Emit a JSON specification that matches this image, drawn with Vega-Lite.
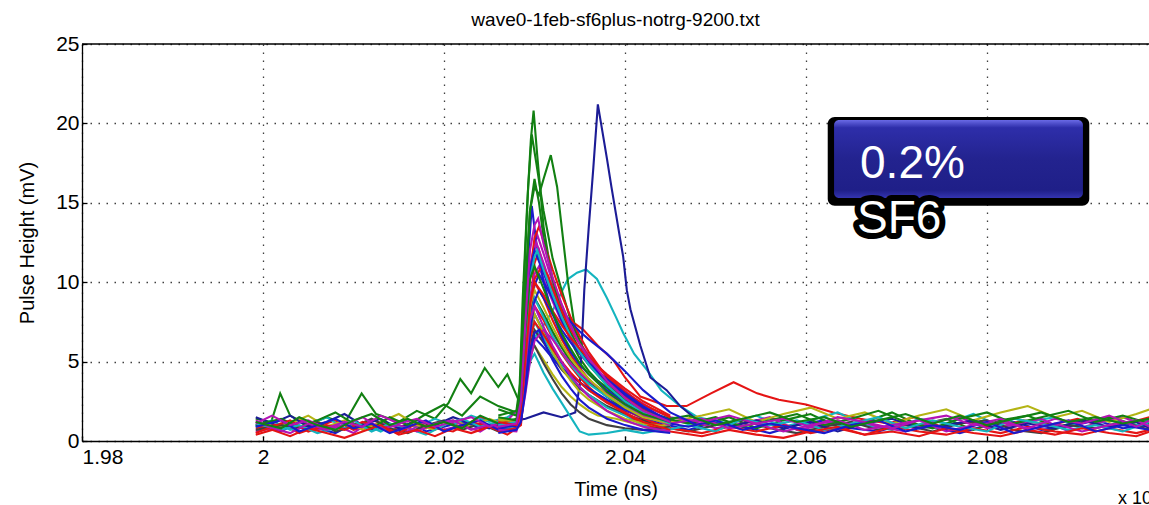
{
"$schema":"https://vega.github.io/schema/vega-lite/v6.json",
"width":1067,"height":397,
"autosize":{"type":"none"},
"padding":{"left":82,"top":44,"right":0,"bottom":64},
"background":"white",
"config":{"view":{"stroke":null},"font":"Liberation Sans"},
"title":{"text":"wave0-1feb-sf6plus-notrg-9200.txt","fontSize":19,"fontWeight":"normal","font":"Liberation Sans","color":"#000","offset":3},
"datasets":{
"w":[
{"s":"a","t":1.9992,"v":1.0},{"s":"a","t":2.002,"v":0.6},{"s":"a","t":2.004,"v":1.2},{"s":"a","t":2.006,"v":0.8},{"s":"a","t":2.008,"v":0.5},{"s":"a","t":2.01,"v":1.1},{"s":"a","t":2.012,"v":0.7},{"s":"a","t":2.014,"v":0.9},{"s":"a","t":2.016,"v":1.3},{"s":"a","t":2.018,"v":0.6},{"s":"a","t":2.02,"v":0.9},{"s":"a","t":2.022,"v":1.2},{"s":"a","t":2.024,"v":0.8},{"s":"a","t":2.026,"v":1.0},{"s":"a","t":2.028,"v":0.9},{"s":"a","t":2.0285,"v":1.8},{"s":"a","t":2.029,"v":4.0},{"s":"a","t":2.0295,"v":6.8},{"s":"a","t":2.03,"v":8.0},{"s":"a","t":2.031,"v":6.9},{"s":"a","t":2.032,"v":5.8},{"s":"a","t":2.033,"v":4.9},{"s":"a","t":2.034,"v":4.2},{"s":"a","t":2.035,"v":3.7},{"s":"a","t":2.036,"v":3.2},{"s":"a","t":2.038,"v":2.5},{"s":"a","t":2.04,"v":1.9},{"s":"a","t":2.042,"v":1.5},{"s":"a","t":2.044,"v":1.1},{"s":"a","t":2.047,"v":0.7},{"s":"a","t":2.05,"v":1.2},{"s":"a","t":2.053,"v":0.9},{"s":"a","t":2.056,"v":0.5},{"s":"a","t":2.059,"v":1.0},{"s":"a","t":2.062,"v":1.3},{"s":"a","t":2.065,"v":0.8},{"s":"a","t":2.068,"v":0.6},{"s":"a","t":2.071,"v":1.1},{"s":"a","t":2.074,"v":0.9},{"s":"a","t":2.077,"v":0.5},{"s":"a","t":2.08,"v":1.0},{"s":"a","t":2.083,"v":1.2},{"s":"a","t":2.086,"v":0.7},{"s":"a","t":2.089,"v":0.9},{"s":"a","t":2.092,"v":1.3},{"s":"a","t":2.095,"v":0.8},{"s":"a","t":2.098,"v":1.0},
{"s":"b","t":1.9992,"v":1.4},{"s":"b","t":2.0009,"v":1.2},{"s":"b","t":2.0019,"v":3.0},{"s":"b","t":2.003,"v":1.6},{"s":"b","t":2.005,"v":1.0},{"s":"b","t":2.007,"v":1.5},{"s":"b","t":2.009,"v":1.1},{"s":"b","t":2.0109,"v":3.0},{"s":"b","t":2.0125,"v":1.7},{"s":"b","t":2.015,"v":1.2},{"s":"b","t":2.017,"v":1.9},{"s":"b","t":2.019,"v":1.4},{"s":"b","t":2.0205,"v":2.4},{"s":"b","t":2.0218,"v":3.9},{"s":"b","t":2.023,"v":3.0},{"s":"b","t":2.0245,"v":4.6},{"s":"b","t":2.026,"v":3.4},{"s":"b","t":2.027,"v":4.2},{"s":"b","t":2.0283,"v":2.5},{"s":"b","t":2.0287,"v":9.0},{"s":"b","t":2.0292,"v":15.0},{"s":"b","t":2.0296,"v":19.0},{"s":"b","t":2.0299,"v":20.8},{"s":"b","t":2.0303,"v":18.0},{"s":"b","t":2.031,"v":13.5},{"s":"b","t":2.032,"v":10.0},{"s":"b","t":2.033,"v":7.8},{"s":"b","t":2.034,"v":6.3},{"s":"b","t":2.035,"v":5.2},{"s":"b","t":2.036,"v":4.4},{"s":"b","t":2.037,"v":3.8},{"s":"b","t":2.039,"v":2.9},{"s":"b","t":2.041,"v":2.2},{"s":"b","t":2.043,"v":1.7},{"s":"b","t":2.045,"v":1.3},{"s":"b","t":2.0485,"v":1.0},{"s":"b","t":2.0515,"v":1.5},{"s":"b","t":2.0545,"v":0.8},{"s":"b","t":2.0575,"v":1.3},{"s":"b","t":2.0605,"v":1.7},{"s":"b","t":2.0635,"v":0.9},{"s":"b","t":2.0665,"v":1.2},{"s":"b","t":2.0695,"v":1.8},{"s":"b","t":2.0725,"v":1.0},{"s":"b","t":2.0755,"v":1.4},{"s":"b","t":2.0785,"v":0.7},{"s":"b","t":2.0815,"v":1.3},{"s":"b","t":2.0845,"v":1.6},{"s":"b","t":2.0875,"v":0.9},{"s":"b","t":2.0905,"v":1.2},{"s":"b","t":2.0935,"v":1.5},{"s":"b","t":2.0965,"v":1.0},{"s":"b","t":2.098,"v":1.3},
{"s":"c","t":1.9992,"v":0.8},{"s":"c","t":2.002,"v":1.1},{"s":"c","t":2.004,"v":0.5},{"s":"c","t":2.006,"v":0.9},{"s":"c","t":2.008,"v":1.3},{"s":"c","t":2.01,"v":0.7},{"s":"c","t":2.012,"v":1.0},{"s":"c","t":2.014,"v":0.6},{"s":"c","t":2.016,"v":1.1},{"s":"c","t":2.018,"v":0.8},{"s":"c","t":2.02,"v":1.2},{"s":"c","t":2.022,"v":0.9},{"s":"c","t":2.024,"v":1.5},{"s":"c","t":2.026,"v":1.1},{"s":"c","t":2.028,"v":1.0},{"s":"c","t":2.0285,"v":1.6},{"s":"c","t":2.029,"v":4.5},{"s":"c","t":2.0295,"v":8.5},{"s":"c","t":2.03,"v":11.2},{"s":"c","t":2.0305,"v":12.0},{"s":"c","t":2.031,"v":11.0},{"s":"c","t":2.032,"v":9.6},{"s":"c","t":2.033,"v":8.3},{"s":"c","t":2.0337,"v":7.7},{"s":"c","t":2.0354,"v":7.0},{"s":"c","t":2.037,"v":6.0},{"s":"c","t":2.0387,"v":5.1},{"s":"c","t":2.04,"v":4.0},{"s":"c","t":2.0417,"v":2.8},{"s":"c","t":2.0446,"v":2.2},{"s":"c","t":2.0468,"v":2.2},{"s":"c","t":2.0495,"v":3.0},{"s":"c","t":2.052,"v":3.7},{"s":"c","t":2.0546,"v":3.0},{"s":"c","t":2.057,"v":2.6},{"s":"c","t":2.06,"v":2.3},{"s":"c","t":2.063,"v":1.8},{"s":"c","t":2.066,"v":1.4},{"s":"c","t":2.069,"v":1.1},{"s":"c","t":2.072,"v":1.5},{"s":"c","t":2.075,"v":0.9},{"s":"c","t":2.078,"v":1.2},{"s":"c","t":2.081,"v":0.8},{"s":"c","t":2.084,"v":1.3},{"s":"c","t":2.087,"v":1.0},{"s":"c","t":2.09,"v":1.4},{"s":"c","t":2.093,"v":0.9},{"s":"c","t":2.096,"v":1.2},{"s":"c","t":2.098,"v":1.5},
{"s":"d","t":1.9992,"v":0.9},{"s":"d","t":2.001,"v":1.3},{"s":"d","t":2.003,"v":0.7},{"s":"d","t":2.005,"v":1.0},{"s":"d","t":2.007,"v":1.5},{"s":"d","t":2.009,"v":0.8},{"s":"d","t":2.011,"v":1.1},{"s":"d","t":2.013,"v":0.6},{"s":"d","t":2.015,"v":1.2},{"s":"d","t":2.017,"v":0.9},{"s":"d","t":2.019,"v":1.4},{"s":"d","t":2.021,"v":1.0},{"s":"d","t":2.023,"v":1.6},{"s":"d","t":2.025,"v":1.2},{"s":"d","t":2.027,"v":1.5},{"s":"d","t":2.0285,"v":2.0},{"s":"d","t":2.029,"v":4.0},{"s":"d","t":2.0295,"v":5.6},{"s":"d","t":2.03,"v":6.5},{"s":"d","t":2.031,"v":7.3},{"s":"d","t":2.032,"v":8.2},{"s":"d","t":2.033,"v":9.4},{"s":"d","t":2.0337,"v":10.2},{"s":"d","t":2.0347,"v":10.6},{"s":"d","t":2.0357,"v":10.8},{"s":"d","t":2.0369,"v":10.2},{"s":"d","t":2.038,"v":9.0},{"s":"d","t":2.039,"v":7.8},{"s":"d","t":2.0398,"v":6.8},{"s":"d","t":2.041,"v":5.5},{"s":"d","t":2.0424,"v":4.5},{"s":"d","t":2.044,"v":3.2},{"s":"d","t":2.0461,"v":2.2},{"s":"d","t":2.048,"v":1.5},{"s":"d","t":2.0515,"v":1.1},{"s":"d","t":2.0545,"v":1.6},{"s":"d","t":2.0575,"v":0.9},{"s":"d","t":2.0605,"v":1.3},{"s":"d","t":2.0635,"v":1.8},{"s":"d","t":2.0665,"v":1.0},{"s":"d","t":2.0695,"v":0.7},{"s":"d","t":2.0725,"v":1.4},{"s":"d","t":2.0755,"v":1.1},{"s":"d","t":2.0785,"v":1.7},{"s":"d","t":2.0815,"v":0.9},{"s":"d","t":2.0845,"v":1.2},{"s":"d","t":2.0875,"v":1.5},{"s":"d","t":2.0905,"v":0.8},{"s":"d","t":2.0935,"v":1.3},{"s":"d","t":2.0965,"v":1.0},{"s":"d","t":2.098,"v":1.4},
{"s":"e","t":1.9992,"v":0.6},{"s":"e","t":2.002,"v":0.9},{"s":"e","t":2.004,"v":1.4},{"s":"e","t":2.006,"v":0.7},{"s":"e","t":2.008,"v":1.0},{"s":"e","t":2.01,"v":0.5},{"s":"e","t":2.012,"v":1.3},{"s":"e","t":2.014,"v":1.0},{"s":"e","t":2.016,"v":0.6},{"s":"e","t":2.018,"v":1.2},{"s":"e","t":2.02,"v":0.7},{"s":"e","t":2.022,"v":1.0},{"s":"e","t":2.024,"v":0.6},{"s":"e","t":2.026,"v":1.3},{"s":"e","t":2.028,"v":0.8},{"s":"e","t":2.0285,"v":1.3},{"s":"e","t":2.029,"v":4.2},{"s":"e","t":2.0295,"v":7.5},{"s":"e","t":2.03,"v":9.0},{"s":"e","t":2.031,"v":8.0},{"s":"e","t":2.032,"v":6.8},{"s":"e","t":2.033,"v":5.9},{"s":"e","t":2.034,"v":5.0},{"s":"e","t":2.035,"v":4.3},{"s":"e","t":2.036,"v":3.7},{"s":"e","t":2.038,"v":2.8},{"s":"e","t":2.04,"v":2.0},{"s":"e","t":2.042,"v":1.4},{"s":"e","t":2.044,"v":1.0},{"s":"e","t":2.047,"v":1.3},{"s":"e","t":2.05,"v":0.8},{"s":"e","t":2.053,"v":1.1},{"s":"e","t":2.056,"v":1.5},{"s":"e","t":2.059,"v":0.7},{"s":"e","t":2.062,"v":1.0},{"s":"e","t":2.065,"v":1.4},{"s":"e","t":2.068,"v":0.9},{"s":"e","t":2.071,"v":0.6},{"s":"e","t":2.074,"v":1.2},{"s":"e","t":2.077,"v":1.5},{"s":"e","t":2.08,"v":0.8},{"s":"e","t":2.083,"v":1.0},{"s":"e","t":2.086,"v":1.4},{"s":"e","t":2.089,"v":0.6},{"s":"e","t":2.092,"v":1.1},{"s":"e","t":2.095,"v":1.5},{"s":"e","t":2.098,"v":0.9},
{"s":"f","t":1.9992,"v":1.2},{"s":"f","t":2.001,"v":0.8},{"s":"f","t":2.003,"v":1.1},{"s":"f","t":2.005,"v":1.6},{"s":"f","t":2.007,"v":0.9},{"s":"f","t":2.009,"v":1.3},{"s":"f","t":2.011,"v":0.7},{"s":"f","t":2.013,"v":1.2},{"s":"f","t":2.015,"v":1.7},{"s":"f","t":2.017,"v":1.0},{"s":"f","t":2.019,"v":0.7},{"s":"f","t":2.021,"v":1.3},{"s":"f","t":2.023,"v":0.9},{"s":"f","t":2.025,"v":1.4},{"s":"f","t":2.027,"v":1.0},{"s":"f","t":2.0285,"v":1.4},{"s":"f","t":2.029,"v":3.4},{"s":"f","t":2.0295,"v":5.3},{"s":"f","t":2.03,"v":6.0},{"s":"f","t":2.031,"v":5.1},{"s":"f","t":2.032,"v":4.2},{"s":"f","t":2.033,"v":3.4},{"s":"f","t":2.034,"v":2.8},{"s":"f","t":2.035,"v":2.3},{"s":"f","t":2.036,"v":1.9},{"s":"f","t":2.037,"v":1.6},{"s":"f","t":2.039,"v":1.4},{"s":"f","t":2.041,"v":1.1},{"s":"f","t":2.043,"v":0.8},{"s":"f","t":2.045,"v":1.2},{"s":"f","t":2.0485,"v":1.6},{"s":"f","t":2.0515,"v":2.0},{"s":"f","t":2.0545,"v":1.2},{"s":"f","t":2.0575,"v":1.7},{"s":"f","t":2.0605,"v":2.1},{"s":"f","t":2.0635,"v":1.4},{"s":"f","t":2.0665,"v":1.8},{"s":"f","t":2.0695,"v":1.1},{"s":"f","t":2.0725,"v":1.6},{"s":"f","t":2.0755,"v":2.0},{"s":"f","t":2.0785,"v":1.3},{"s":"f","t":2.0815,"v":1.8},{"s":"f","t":2.0845,"v":2.2},{"s":"f","t":2.0875,"v":1.5},{"s":"f","t":2.0905,"v":1.9},{"s":"f","t":2.0935,"v":1.2},{"s":"f","t":2.0965,"v":1.7},{"s":"f","t":2.098,"v":2.0},
{"s":"g","t":1.9992,"v":0.7},{"s":"g","t":2.002,"v":1.0},{"s":"g","t":2.004,"v":0.8},{"s":"g","t":2.006,"v":1.2},{"s":"g","t":2.008,"v":0.6},{"s":"g","t":2.01,"v":0.9},{"s":"g","t":2.012,"v":1.4},{"s":"g","t":2.014,"v":0.8},{"s":"g","t":2.016,"v":0.5},{"s":"g","t":2.018,"v":1.0},{"s":"g","t":2.02,"v":1.3},{"s":"g","t":2.022,"v":0.7},{"s":"g","t":2.024,"v":1.1},{"s":"g","t":2.026,"v":0.6},{"s":"g","t":2.028,"v":1.0},{"s":"g","t":2.0285,"v":1.5},{"s":"g","t":2.029,"v":3.8},{"s":"g","t":2.0295,"v":6.0},{"s":"g","t":2.03,"v":7.0},{"s":"g","t":2.031,"v":6.2},{"s":"g","t":2.032,"v":5.3},{"s":"g","t":2.033,"v":4.5},{"s":"g","t":2.034,"v":3.9},{"s":"g","t":2.035,"v":3.3},{"s":"g","t":2.036,"v":2.9},{"s":"g","t":2.038,"v":2.2},{"s":"g","t":2.04,"v":1.7},{"s":"g","t":2.042,"v":1.3},{"s":"g","t":2.044,"v":0.9},{"s":"g","t":2.047,"v":0.6},{"s":"g","t":2.05,"v":1.0},{"s":"g","t":2.053,"v":1.3},{"s":"g","t":2.056,"v":0.8},{"s":"g","t":2.059,"v":0.5},{"s":"g","t":2.062,"v":0.9},{"s":"g","t":2.065,"v":1.2},{"s":"g","t":2.068,"v":0.7},{"s":"g","t":2.071,"v":1.0},{"s":"g","t":2.074,"v":0.6},{"s":"g","t":2.077,"v":1.1},{"s":"g","t":2.08,"v":1.3},{"s":"g","t":2.083,"v":0.7},{"s":"g","t":2.086,"v":0.5},{"s":"g","t":2.089,"v":1.0},{"s":"g","t":2.092,"v":0.8},{"s":"g","t":2.095,"v":1.2},{"s":"g","t":2.098,"v":0.7},
{"s":"h","t":1.9992,"v":1.5},{"s":"h","t":2.001,"v":1.1},{"s":"h","t":2.003,"v":1.6},{"s":"h","t":2.005,"v":0.9},{"s":"h","t":2.007,"v":1.2},{"s":"h","t":2.009,"v":1.7},{"s":"h","t":2.011,"v":1.0},{"s":"h","t":2.013,"v":1.4},{"s":"h","t":2.015,"v":0.8},{"s":"h","t":2.017,"v":1.3},{"s":"h","t":2.019,"v":1.0},{"s":"h","t":2.021,"v":1.5},{"s":"h","t":2.023,"v":1.1},{"s":"h","t":2.025,"v":0.8},{"s":"h","t":2.027,"v":1.2},{"s":"h","t":2.029,"v":1.4},{"s":"h","t":2.031,"v":1.8},{"s":"h","t":2.033,"v":1.5},{"s":"h","t":2.0345,"v":1.8},{"s":"h","t":2.035,"v":3.5},{"s":"h","t":2.0352,"v":5.8},{"s":"h","t":2.0355,"v":9.5},{"s":"h","t":2.036,"v":13.5},{"s":"h","t":2.0365,"v":17.2},{"s":"h","t":2.037,"v":21.2},{"s":"h","t":2.0375,"v":19.5},{"s":"h","t":2.038,"v":17.8},{"s":"h","t":2.0385,"v":16.0},{"s":"h","t":2.039,"v":14.3},{"s":"h","t":2.0395,"v":12.6},{"s":"h","t":2.0398,"v":11.6},{"s":"h","t":2.0402,"v":9.5},{"s":"h","t":2.0406,"v":8.3},{"s":"h","t":2.0417,"v":6.0},{"s":"h","t":2.0428,"v":4.0},{"s":"h","t":2.0446,"v":3.2},{"s":"h","t":2.0461,"v":2.2},{"s":"h","t":2.048,"v":1.3},{"s":"h","t":2.0515,"v":0.9},{"s":"h","t":2.0545,"v":1.3},{"s":"h","t":2.0575,"v":0.8},{"s":"h","t":2.0605,"v":1.2},{"s":"h","t":2.0635,"v":0.6},{"s":"h","t":2.0665,"v":1.1},{"s":"h","t":2.0695,"v":1.4},{"s":"h","t":2.0725,"v":0.8},{"s":"h","t":2.0755,"v":1.0},{"s":"h","t":2.0785,"v":1.3},{"s":"h","t":2.0815,"v":0.7},{"s":"h","t":2.0845,"v":1.1},{"s":"h","t":2.0875,"v":0.8},{"s":"h","t":2.0905,"v":1.3},{"s":"h","t":2.0935,"v":0.9},{"s":"h","t":2.0965,"v":1.2},{"s":"h","t":2.098,"v":0.8},
{"s":"i","t":1.9992,"v":1.0},{"s":"i","t":2.002,"v":1.4},{"s":"i","t":2.004,"v":0.9},{"s":"i","t":2.006,"v":1.3},{"s":"i","t":2.008,"v":1.8},{"s":"i","t":2.01,"v":1.1},{"s":"i","t":2.012,"v":0.8},{"s":"i","t":2.014,"v":1.5},{"s":"i","t":2.016,"v":1.0},{"s":"i","t":2.018,"v":1.7},{"s":"i","t":2.02,"v":2.3},{"s":"i","t":2.022,"v":1.6},{"s":"i","t":2.024,"v":2.8},{"s":"i","t":2.026,"v":2.2},{"s":"i","t":2.028,"v":1.8},{"s":"i","t":2.0284,"v":3.0},{"s":"i","t":2.0288,"v":9.5},{"s":"i","t":2.0293,"v":16.0},{"s":"i","t":2.0297,"v":19.3},{"s":"i","t":2.0302,"v":17.5},{"s":"i","t":2.031,"v":14.5},{"s":"i","t":2.032,"v":11.5},{"s":"i","t":2.033,"v":9.5},{"s":"i","t":2.034,"v":7.6},{"s":"i","t":2.035,"v":6.2},{"s":"i","t":2.036,"v":5.1},{"s":"i","t":2.038,"v":3.6},{"s":"i","t":2.04,"v":2.6},{"s":"i","t":2.042,"v":2.0},{"s":"i","t":2.044,"v":1.5},{"s":"i","t":2.047,"v":1.1},{"s":"i","t":2.05,"v":1.5},{"s":"i","t":2.053,"v":0.9},{"s":"i","t":2.056,"v":1.3},{"s":"i","t":2.059,"v":1.7},{"s":"i","t":2.062,"v":1.0},{"s":"i","t":2.065,"v":1.4},{"s":"i","t":2.068,"v":1.9},{"s":"i","t":2.071,"v":1.2},{"s":"i","t":2.074,"v":0.8},{"s":"i","t":2.077,"v":1.4},{"s":"i","t":2.08,"v":1.8},{"s":"i","t":2.083,"v":1.1},{"s":"i","t":2.086,"v":1.5},{"s":"i","t":2.089,"v":1.9},{"s":"i","t":2.092,"v":1.2},{"s":"i","t":2.095,"v":1.6},{"s":"i","t":2.098,"v":1.1},
{"s":"j","t":1.9992,"v":0.5},{"s":"j","t":2.001,"v":0.9},{"s":"j","t":2.003,"v":1.3},{"s":"j","t":2.005,"v":0.6},{"s":"j","t":2.007,"v":1.0},{"s":"j","t":2.009,"v":0.7},{"s":"j","t":2.011,"v":1.2},{"s":"j","t":2.013,"v":0.9},{"s":"j","t":2.015,"v":0.5},{"s":"j","t":2.017,"v":1.1},{"s":"j","t":2.019,"v":0.8},{"s":"j","t":2.021,"v":0.6},{"s":"j","t":2.023,"v":1.2},{"s":"j","t":2.025,"v":0.9},{"s":"j","t":2.027,"v":0.7},{"s":"j","t":2.0285,"v":1.2},{"s":"j","t":2.029,"v":4.6},{"s":"j","t":2.0295,"v":8.4},{"s":"j","t":2.03,"v":10.0},{"s":"j","t":2.031,"v":9.0},{"s":"j","t":2.032,"v":7.6},{"s":"j","t":2.033,"v":6.4},{"s":"j","t":2.034,"v":5.4},{"s":"j","t":2.035,"v":4.6},{"s":"j","t":2.036,"v":3.9},{"s":"j","t":2.037,"v":3.3},{"s":"j","t":2.039,"v":2.4},{"s":"j","t":2.041,"v":1.7},{"s":"j","t":2.043,"v":1.2},{"s":"j","t":2.045,"v":0.8},{"s":"j","t":2.0485,"v":0.5},{"s":"j","t":2.0515,"v":0.9},{"s":"j","t":2.0545,"v":0.6},{"s":"j","t":2.0575,"v":1.0},{"s":"j","t":2.0605,"v":0.5},{"s":"j","t":2.0635,"v":0.8},{"s":"j","t":2.0665,"v":0.4},{"s":"j","t":2.0695,"v":0.9},{"s":"j","t":2.0725,"v":0.6},{"s":"j","t":2.0755,"v":0.4},{"s":"j","t":2.0785,"v":0.8},{"s":"j","t":2.0815,"v":0.5},{"s":"j","t":2.0845,"v":0.9},{"s":"j","t":2.0875,"v":0.6},{"s":"j","t":2.0905,"v":0.4},{"s":"j","t":2.0935,"v":0.8},{"s":"j","t":2.0965,"v":0.5},{"s":"j","t":2.098,"v":0.7},
{"s":"k","t":1.9992,"v":1.1},{"s":"k","t":2.002,"v":0.7},{"s":"k","t":2.004,"v":1.0},{"s":"k","t":2.006,"v":0.5},{"s":"k","t":2.008,"v":0.8},{"s":"k","t":2.01,"v":1.3},{"s":"k","t":2.012,"v":0.6},{"s":"k","t":2.014,"v":1.1},{"s":"k","t":2.016,"v":0.8},{"s":"k","t":2.018,"v":0.4},{"s":"k","t":2.02,"v":1.0},{"s":"k","t":2.022,"v":1.4},{"s":"k","t":2.024,"v":0.9},{"s":"k","t":2.026,"v":1.2},{"s":"k","t":2.028,"v":0.8},{"s":"k","t":2.0285,"v":1.4},{"s":"k","t":2.029,"v":3.9},{"s":"k","t":2.0295,"v":6.4},{"s":"k","t":2.03,"v":7.5},{"s":"k","t":2.031,"v":6.5},{"s":"k","t":2.032,"v":5.5},{"s":"k","t":2.033,"v":4.7},{"s":"k","t":2.034,"v":4.0},{"s":"k","t":2.035,"v":3.4},{"s":"k","t":2.036,"v":2.9},{"s":"k","t":2.038,"v":2.1},{"s":"k","t":2.04,"v":1.6},{"s":"k","t":2.042,"v":1.0},{"s":"k","t":2.044,"v":0.6},{"s":"k","t":2.047,"v":1.0},{"s":"k","t":2.05,"v":0.6},{"s":"k","t":2.053,"v":1.4},{"s":"k","t":2.056,"v":1.0},{"s":"k","t":2.059,"v":1.3},{"s":"k","t":2.062,"v":0.7},{"s":"k","t":2.065,"v":1.1},{"s":"k","t":2.068,"v":1.5},{"s":"k","t":2.071,"v":0.8},{"s":"k","t":2.074,"v":1.3},{"s":"k","t":2.077,"v":0.9},{"s":"k","t":2.08,"v":0.6},{"s":"k","t":2.083,"v":1.4},{"s":"k","t":2.086,"v":1.1},{"s":"k","t":2.089,"v":0.7},{"s":"k","t":2.092,"v":1.0},{"s":"k","t":2.095,"v":0.6},{"s":"k","t":2.098,"v":1.2},
{"s":"l","t":1.9992,"v":1.3},{"s":"l","t":2.001,"v":0.8},{"s":"l","t":2.003,"v":0.5},{"s":"l","t":2.005,"v":1.1},{"s":"l","t":2.007,"v":0.7},{"s":"l","t":2.009,"v":1.0},{"s":"l","t":2.011,"v":1.5},{"s":"l","t":2.013,"v":0.8},{"s":"l","t":2.015,"v":1.0},{"s":"l","t":2.017,"v":0.6},{"s":"l","t":2.019,"v":1.1},{"s":"l","t":2.021,"v":1.3},{"s":"l","t":2.023,"v":0.7},{"s":"l","t":2.025,"v":1.0},{"s":"l","t":2.027,"v":0.8},{"s":"l","t":2.0285,"v":1.5},{"s":"l","t":2.029,"v":5.0},{"s":"l","t":2.0295,"v":9.0},{"s":"l","t":2.03,"v":10.5},{"s":"l","t":2.0305,"v":11.0},{"s":"l","t":2.031,"v":10.2},{"s":"l","t":2.032,"v":8.8},{"s":"l","t":2.033,"v":7.5},{"s":"l","t":2.034,"v":6.4},{"s":"l","t":2.035,"v":5.5},{"s":"l","t":2.036,"v":4.8},{"s":"l","t":2.037,"v":4.2},{"s":"l","t":2.039,"v":3.2},{"s":"l","t":2.041,"v":2.3},{"s":"l","t":2.043,"v":1.6},{"s":"l","t":2.045,"v":1.1},{"s":"l","t":2.0485,"v":1.4},{"s":"l","t":2.0515,"v":0.8},{"s":"l","t":2.0545,"v":1.1},{"s":"l","t":2.0575,"v":0.6},{"s":"l","t":2.0605,"v":1.0},{"s":"l","t":2.0635,"v":1.3},{"s":"l","t":2.0665,"v":0.7},{"s":"l","t":2.0695,"v":1.0},{"s":"l","t":2.0725,"v":1.3},{"s":"l","t":2.0755,"v":0.6},{"s":"l","t":2.0785,"v":1.0},{"s":"l","t":2.0815,"v":1.4},{"s":"l","t":2.0845,"v":0.7},{"s":"l","t":2.0875,"v":1.1},{"s":"l","t":2.0905,"v":0.6},{"s":"l","t":2.0935,"v":1.0},{"s":"l","t":2.0965,"v":1.3},{"s":"l","t":2.098,"v":0.9},
{"s":"A","t":1.9992,"v":0.4},{"s":"A","t":2.001,"v":0.7},{"s":"A","t":2.003,"v":0.3},{"s":"A","t":2.005,"v":0.8},{"s":"A","t":2.007,"v":0.5},{"s":"A","t":2.009,"v":0.2},{"s":"A","t":2.011,"v":0.6},{"s":"A","t":2.013,"v":1.0},{"s":"A","t":2.015,"v":0.4},{"s":"A","t":2.017,"v":0.7},{"s":"A","t":2.019,"v":0.3},{"s":"A","t":2.021,"v":0.8},{"s":"A","t":2.023,"v":0.5},{"s":"A","t":2.025,"v":0.9},{"s":"A","t":2.027,"v":0.4},{"s":"A","t":2.0285,"v":1.0},{"s":"A","t":2.029,"v":4.0},{"s":"A","t":2.0295,"v":7.2},{"s":"A","t":2.03,"v":8.5},{"s":"A","t":2.031,"v":7.6},{"s":"A","t":2.032,"v":6.5},{"s":"A","t":2.033,"v":5.5},{"s":"A","t":2.034,"v":4.7},{"s":"A","t":2.035,"v":4.0},{"s":"A","t":2.036,"v":3.4},{"s":"A","t":2.037,"v":2.9},{"s":"A","t":2.039,"v":2.1},{"s":"A","t":2.041,"v":1.4},{"s":"A","t":2.043,"v":0.9},{"s":"A","t":2.045,"v":0.6},{"s":"A","t":2.0485,"v":0.3},{"s":"A","t":2.0515,"v":0.7},{"s":"A","t":2.0545,"v":0.4},{"s":"A","t":2.0575,"v":0.2},{"s":"A","t":2.0605,"v":0.6},{"s":"A","t":2.0635,"v":0.9},{"s":"A","t":2.0665,"v":0.4},{"s":"A","t":2.0695,"v":0.6},{"s":"A","t":2.0725,"v":0.3},{"s":"A","t":2.0755,"v":0.8},{"s":"A","t":2.0785,"v":0.5},{"s":"A","t":2.0815,"v":0.3},{"s":"A","t":2.0845,"v":0.7},{"s":"A","t":2.0875,"v":0.4},{"s":"A","t":2.0905,"v":0.8},{"s":"A","t":2.0935,"v":0.5},{"s":"A","t":2.0965,"v":0.3},{"s":"A","t":2.098,"v":0.6},
{"s":"B","t":1.9992,"v":0.9},{"s":"B","t":2.002,"v":1.3},{"s":"B","t":2.004,"v":0.6},{"s":"B","t":2.006,"v":1.0},{"s":"B","t":2.008,"v":1.4},{"s":"B","t":2.01,"v":0.8},{"s":"B","t":2.012,"v":1.1},{"s":"B","t":2.014,"v":0.5},{"s":"B","t":2.016,"v":0.9},{"s":"B","t":2.018,"v":1.3},{"s":"B","t":2.02,"v":0.6},{"s":"B","t":2.022,"v":1.0},{"s":"B","t":2.024,"v":1.3},{"s":"B","t":2.026,"v":0.7},{"s":"B","t":2.028,"v":1.1},{"s":"B","t":2.0285,"v":1.7},{"s":"B","t":2.029,"v":3.9},{"s":"B","t":2.0295,"v":5.8},{"s":"B","t":2.03,"v":6.5},{"s":"B","t":2.031,"v":5.9},{"s":"B","t":2.032,"v":5.2},{"s":"B","t":2.033,"v":4.6},{"s":"B","t":2.034,"v":4.1},{"s":"B","t":2.035,"v":3.7},{"s":"B","t":2.036,"v":3.3},{"s":"B","t":2.038,"v":2.6},{"s":"B","t":2.04,"v":2.0},{"s":"B","t":2.042,"v":1.5},{"s":"B","t":2.044,"v":1.2},{"s":"B","t":2.047,"v":0.9},{"s":"B","t":2.05,"v":1.3},{"s":"B","t":2.053,"v":0.7},{"s":"B","t":2.056,"v":1.1},{"s":"B","t":2.059,"v":0.8},{"s":"B","t":2.062,"v":0.5},{"s":"B","t":2.065,"v":1.0},{"s":"B","t":2.068,"v":1.3},{"s":"B","t":2.071,"v":0.6},{"s":"B","t":2.074,"v":1.0},{"s":"B","t":2.077,"v":0.7},{"s":"B","t":2.08,"v":1.2},{"s":"B","t":2.083,"v":0.5},{"s":"B","t":2.086,"v":0.9},{"s":"B","t":2.089,"v":1.3},{"s":"B","t":2.092,"v":0.6},{"s":"B","t":2.095,"v":1.0},{"s":"B","t":2.098,"v":0.7},
{"s":"C","t":1.9992,"v":1.1},{"s":"C","t":2.001,"v":1.6},{"s":"C","t":2.003,"v":1.0},{"s":"C","t":2.005,"v":1.3},{"s":"C","t":2.007,"v":0.8},{"s":"C","t":2.009,"v":1.2},{"s":"C","t":2.011,"v":0.9},{"s":"C","t":2.013,"v":1.6},{"s":"C","t":2.015,"v":1.1},{"s":"C","t":2.017,"v":1.4},{"s":"C","t":2.019,"v":0.9},{"s":"C","t":2.021,"v":1.2},{"s":"C","t":2.023,"v":1.5},{"s":"C","t":2.025,"v":0.9},{"s":"C","t":2.027,"v":1.3},{"s":"C","t":2.0285,"v":2.2},{"s":"C","t":2.029,"v":6.5},{"s":"C","t":2.0295,"v":11.0},{"s":"C","t":2.0303,"v":13.0},{"s":"C","t":2.031,"v":11.8},{"s":"C","t":2.032,"v":10.0},{"s":"C","t":2.033,"v":8.6},{"s":"C","t":2.034,"v":7.3},{"s":"C","t":2.035,"v":6.2},{"s":"C","t":2.036,"v":5.4},{"s":"C","t":2.037,"v":4.7},{"s":"C","t":2.039,"v":3.6},{"s":"C","t":2.041,"v":2.7},{"s":"C","t":2.043,"v":2.0},{"s":"C","t":2.045,"v":1.5},{"s":"C","t":2.0485,"v":1.2},{"s":"C","t":2.0515,"v":1.6},{"s":"C","t":2.0545,"v":1.1},{"s":"C","t":2.0575,"v":1.4},{"s":"C","t":2.0605,"v":0.9},{"s":"C","t":2.0635,"v":1.5},{"s":"C","t":2.0665,"v":1.2},{"s":"C","t":2.0695,"v":0.8},{"s":"C","t":2.0725,"v":1.3},{"s":"C","t":2.0755,"v":1.6},{"s":"C","t":2.0785,"v":1.0},{"s":"C","t":2.0815,"v":1.2},{"s":"C","t":2.0845,"v":0.8},{"s":"C","t":2.0875,"v":1.4},{"s":"C","t":2.0905,"v":1.1},{"s":"C","t":2.0935,"v":1.6},{"s":"C","t":2.0965,"v":0.9},{"s":"C","t":2.098,"v":1.3},
{"s":"D","t":1.9992,"v":1.2},{"s":"D","t":2.002,"v":0.8},{"s":"D","t":2.004,"v":1.5},{"s":"D","t":2.006,"v":1.0},{"s":"D","t":2.008,"v":0.7},{"s":"D","t":2.01,"v":1.3},{"s":"D","t":2.012,"v":1.7},{"s":"D","t":2.014,"v":1.0},{"s":"D","t":2.016,"v":1.4},{"s":"D","t":2.018,"v":0.9},{"s":"D","t":2.02,"v":1.2},{"s":"D","t":2.022,"v":0.8},{"s":"D","t":2.024,"v":1.6},{"s":"D","t":2.026,"v":1.1},{"s":"D","t":2.028,"v":1.4},{"s":"D","t":2.0285,"v":2.4},{"s":"D","t":2.029,"v":5.2},{"s":"D","t":2.0295,"v":8.0},{"s":"D","t":2.03,"v":9.0},{"s":"D","t":2.031,"v":8.0},{"s":"D","t":2.032,"v":6.9},{"s":"D","t":2.033,"v":5.9},{"s":"D","t":2.034,"v":5.0},{"s":"D","t":2.035,"v":4.3},{"s":"D","t":2.036,"v":3.7},{"s":"D","t":2.038,"v":2.8},{"s":"D","t":2.04,"v":2.1},{"s":"D","t":2.042,"v":1.6},{"s":"D","t":2.044,"v":1.3},{"s":"D","t":2.047,"v":1.6},{"s":"D","t":2.05,"v":1.0},{"s":"D","t":2.053,"v":1.4},{"s":"D","t":2.056,"v":1.8},{"s":"D","t":2.059,"v":1.2},{"s":"D","t":2.062,"v":1.5},{"s":"D","t":2.065,"v":0.9},{"s":"D","t":2.068,"v":1.3},{"s":"D","t":2.071,"v":1.7},{"s":"D","t":2.074,"v":1.1},{"s":"D","t":2.077,"v":1.6},{"s":"D","t":2.08,"v":1.0},{"s":"D","t":2.083,"v":1.4},{"s":"D","t":2.086,"v":1.8},{"s":"D","t":2.089,"v":1.2},{"s":"D","t":2.092,"v":1.5},{"s":"D","t":2.095,"v":1.1},{"s":"D","t":2.098,"v":1.4},
{"s":"m","t":2.026,"v":1.0},{"s":"m","t":2.028,"v":1.2},{"s":"m","t":2.0285,"v":3.0},{"s":"m","t":2.029,"v":9.0},{"s":"m","t":2.0297,"v":14.8},{"s":"m","t":2.0302,"v":12.5},{"s":"m","t":2.031,"v":10.0},{"s":"m","t":2.032,"v":8.0},{"s":"m","t":2.033,"v":6.6},{"s":"m","t":2.034,"v":5.6},{"s":"m","t":2.035,"v":4.8},{"s":"m","t":2.036,"v":4.2},{"s":"m","t":2.038,"v":3.2},{"s":"m","t":2.04,"v":2.4},{"s":"m","t":2.042,"v":1.7},{"s":"m","t":2.045,"v":1.0},
{"s":"n","t":2.026,"v":1.6},{"s":"n","t":2.028,"v":1.9},{"s":"n","t":2.0285,"v":4.0},{"s":"n","t":2.029,"v":10.0},{"s":"n","t":2.0295,"v":14.5},{"s":"n","t":2.03,"v":16.0},{"s":"n","t":2.0305,"v":15.5},{"s":"n","t":2.031,"v":16.5},{"s":"n","t":2.0318,"v":18.0},{"s":"n","t":2.0325,"v":16.0},{"s":"n","t":2.033,"v":13.5},{"s":"n","t":2.0337,"v":10.0},{"s":"n","t":2.0345,"v":7.0},{"s":"n","t":2.036,"v":5.0},{"s":"n","t":2.038,"v":3.5},{"s":"n","t":2.04,"v":2.5},{"s":"n","t":2.042,"v":1.9},{"s":"n","t":2.045,"v":1.4},
{"s":"o","t":2.026,"v":0.9},{"s":"o","t":2.028,"v":1.1},{"s":"o","t":2.0285,"v":2.0},{"s":"o","t":2.029,"v":6.0},{"s":"o","t":2.0295,"v":10.5},{"s":"o","t":2.03,"v":12.8},{"s":"o","t":2.0305,"v":13.5},{"s":"o","t":2.031,"v":12.6},{"s":"o","t":2.032,"v":10.8},{"s":"o","t":2.033,"v":9.2},{"s":"o","t":2.034,"v":7.8},{"s":"o","t":2.035,"v":6.6},{"s":"o","t":2.036,"v":5.6},{"s":"o","t":2.038,"v":4.0},{"s":"o","t":2.04,"v":2.8},{"s":"o","t":2.042,"v":2.0},{"s":"o","t":2.045,"v":1.2},
{"s":"p","t":2.026,"v":1.2},{"s":"p","t":2.028,"v":1.0},{"s":"p","t":2.0285,"v":1.9},{"s":"p","t":2.029,"v":5.0},{"s":"p","t":2.0295,"v":8.0},{"s":"p","t":2.03,"v":9.0},{"s":"p","t":2.031,"v":7.8},{"s":"p","t":2.032,"v":6.6},{"s":"p","t":2.033,"v":5.6},{"s":"p","t":2.034,"v":4.8},{"s":"p","t":2.035,"v":4.1},{"s":"p","t":2.036,"v":3.6},{"s":"p","t":2.038,"v":2.8},{"s":"p","t":2.04,"v":2.2},{"s":"p","t":2.042,"v":1.6},{"s":"p","t":2.045,"v":1.0},
{"s":"q","t":2.026,"v":0.8},{"s":"q","t":2.028,"v":1.0},{"s":"q","t":2.0285,"v":2.2},{"s":"q","t":2.029,"v":6.5},{"s":"q","t":2.0295,"v":10.8},{"s":"q","t":2.0302,"v":12.5},{"s":"q","t":2.031,"v":11.2},{"s":"q","t":2.032,"v":9.5},{"s":"q","t":2.033,"v":8.0},{"s":"q","t":2.034,"v":6.8},{"s":"q","t":2.035,"v":5.8},{"s":"q","t":2.036,"v":5.0},{"s":"q","t":2.038,"v":3.6},{"s":"q","t":2.04,"v":2.6},{"s":"q","t":2.042,"v":1.8},{"s":"q","t":2.045,"v":1.1},
{"s":"r","t":2.026,"v":1.3},{"s":"r","t":2.028,"v":1.1},{"s":"r","t":2.0285,"v":1.7},{"s":"r","t":2.029,"v":4.5},{"s":"r","t":2.0295,"v":7.0},{"s":"r","t":2.03,"v":8.0},{"s":"r","t":2.031,"v":6.8},{"s":"r","t":2.032,"v":5.6},{"s":"r","t":2.033,"v":4.6},{"s":"r","t":2.034,"v":3.8},{"s":"r","t":2.035,"v":3.1},{"s":"r","t":2.036,"v":2.6},{"s":"r","t":2.038,"v":1.9},{"s":"r","t":2.04,"v":1.4},{"s":"r","t":2.042,"v":1.1},{"s":"r","t":2.045,"v":0.9},
{"s":"s","t":2.026,"v":1.0},{"s":"s","t":2.028,"v":0.9},{"s":"s","t":2.0285,"v":2.0},{"s":"s","t":2.029,"v":4.8},{"s":"s","t":2.0295,"v":6.5},{"s":"s","t":2.03,"v":6.0},{"s":"s","t":2.031,"v":4.9},{"s":"s","t":2.032,"v":3.9},{"s":"s","t":2.033,"v":3.0},{"s":"s","t":2.034,"v":2.3},{"s":"s","t":2.035,"v":1.8},{"s":"s","t":2.036,"v":1.4},{"s":"s","t":2.038,"v":1.0},{"s":"s","t":2.04,"v":0.8},{"s":"s","t":2.042,"v":0.7},{"s":"s","t":2.045,"v":0.9},
{"s":"t","t":2.026,"v":0.7},{"s":"t","t":2.028,"v":0.9},{"s":"t","t":2.0285,"v":1.6},{"s":"t","t":2.029,"v":4.5},{"s":"t","t":2.0295,"v":8.0},{"s":"t","t":2.03,"v":9.8},{"s":"t","t":2.0305,"v":10.5},{"s":"t","t":2.031,"v":10.0},{"s":"t","t":2.032,"v":9.0},{"s":"t","t":2.033,"v":8.2},{"s":"t","t":2.034,"v":7.5},{"s":"t","t":2.035,"v":6.9},{"s":"t","t":2.036,"v":6.4},{"s":"t","t":2.038,"v":5.5},{"s":"t","t":2.04,"v":4.4},{"s":"t","t":2.042,"v":3.2},{"s":"t","t":2.045,"v":1.8},{"s":"t","t":2.048,"v":1.0},
{"s":"u","t":2.026,"v":2.0},{"s":"u","t":2.028,"v":1.6},{"s":"u","t":2.0285,"v":3.5},{"s":"u","t":2.029,"v":9.5},{"s":"u","t":2.0295,"v":14.5},{"s":"u","t":2.03,"v":16.5},{"s":"u","t":2.0305,"v":15.0},{"s":"u","t":2.031,"v":12.8},{"s":"u","t":2.032,"v":10.2},{"s":"u","t":2.033,"v":8.2},{"s":"u","t":2.034,"v":6.8},{"s":"u","t":2.035,"v":5.7},{"s":"u","t":2.036,"v":4.8},{"s":"u","t":2.038,"v":3.5},{"s":"u","t":2.04,"v":2.6},{"s":"u","t":2.042,"v":1.9},{"s":"u","t":2.045,"v":1.3},
{"s":"v","t":2.026,"v":1.1},{"s":"v","t":2.028,"v":1.3},{"s":"v","t":2.0285,"v":1.8},{"s":"v","t":2.029,"v":4.8},{"s":"v","t":2.0295,"v":8.2},{"s":"v","t":2.03,"v":10.2},{"s":"v","t":2.0308,"v":11.0},{"s":"v","t":2.0315,"v":10.4},{"s":"v","t":2.032,"v":9.6},{"s":"v","t":2.033,"v":8.2},{"s":"v","t":2.034,"v":7.0},{"s":"v","t":2.035,"v":6.1},{"s":"v","t":2.036,"v":5.3},{"s":"v","t":2.038,"v":4.1},{"s":"v","t":2.04,"v":3.1},{"s":"v","t":2.042,"v":2.3},{"s":"v","t":2.045,"v":1.5},
{"s":"w","t":2.026,"v":0.9},{"s":"w","t":2.028,"v":0.8},{"s":"w","t":2.0285,"v":1.5},{"s":"w","t":2.029,"v":3.6},{"s":"w","t":2.0295,"v":5.0},{"s":"w","t":2.03,"v":5.5},{"s":"w","t":2.031,"v":4.3},{"s":"w","t":2.032,"v":3.3},{"s":"w","t":2.033,"v":2.4},{"s":"w","t":2.034,"v":1.5},{"s":"w","t":2.035,"v":0.6},{"s":"w","t":2.036,"v":0.4},{"s":"w","t":2.038,"v":0.5},{"s":"w","t":2.04,"v":0.7},{"s":"w","t":2.042,"v":0.5},{"s":"w","t":2.045,"v":0.8},
{"s":"x","t":2.026,"v":1.0},{"s":"x","t":2.028,"v":0.9},{"s":"x","t":2.0285,"v":1.3},{"s":"x","t":2.029,"v":3.0},{"s":"x","t":2.0295,"v":5.0},{"s":"x","t":2.03,"v":6.3},{"s":"x","t":2.031,"v":7.0},{"s":"x","t":2.032,"v":6.4},{"s":"x","t":2.033,"v":5.6},{"s":"x","t":2.034,"v":4.9},{"s":"x","t":2.035,"v":4.3},{"s":"x","t":2.036,"v":3.8},{"s":"x","t":2.038,"v":3.0},{"s":"x","t":2.04,"v":2.3},{"s":"x","t":2.042,"v":1.6},{"s":"x","t":2.045,"v":1.0},
{"s":"y","t":2.026,"v":1.4},{"s":"y","t":2.028,"v":1.2},{"s":"y","t":2.0285,"v":2.0},{"s":"y","t":2.029,"v":5.5},{"s":"y","t":2.0295,"v":8.5},{"s":"y","t":2.03,"v":9.5},{"s":"y","t":2.031,"v":8.4},{"s":"y","t":2.032,"v":7.2},{"s":"y","t":2.033,"v":6.1},{"s":"y","t":2.034,"v":5.2},{"s":"y","t":2.035,"v":4.5},{"s":"y","t":2.036,"v":3.9},{"s":"y","t":2.038,"v":2.9},{"s":"y","t":2.04,"v":2.1},{"s":"y","t":2.042,"v":1.5},{"s":"y","t":2.045,"v":1.1},
{"s":"z","t":2.026,"v":0.8},{"s":"z","t":2.028,"v":1.0},{"s":"z","t":2.0285,"v":2.4},{"s":"z","t":2.029,"v":7.0},{"s":"z","t":2.0295,"v":10.8},{"s":"z","t":2.03,"v":12.0},{"s":"z","t":2.031,"v":10.6},{"s":"z","t":2.032,"v":9.0},{"s":"z","t":2.033,"v":7.6},{"s":"z","t":2.034,"v":6.5},{"s":"z","t":2.035,"v":5.6},{"s":"z","t":2.036,"v":4.9},{"s":"z","t":2.038,"v":3.8},{"s":"z","t":2.04,"v":2.9},{"s":"z","t":2.042,"v":2.1},{"s":"z","t":2.045,"v":1.3},
{"s":"E","t":2.026,"v":0.6},{"s":"E","t":2.028,"v":0.8},{"s":"E","t":2.0285,"v":1.4},{"s":"E","t":2.029,"v":3.8},{"s":"E","t":2.0295,"v":6.4},{"s":"E","t":2.03,"v":7.5},{"s":"E","t":2.031,"v":6.7},{"s":"E","t":2.032,"v":5.8},{"s":"E","t":2.033,"v":5.0},{"s":"E","t":2.034,"v":4.3},{"s":"E","t":2.035,"v":3.7},{"s":"E","t":2.036,"v":3.2},{"s":"E","t":2.038,"v":2.4},{"s":"E","t":2.04,"v":1.8},{"s":"E","t":2.042,"v":1.2},{"s":"E","t":2.045,"v":0.7},
{"s":"F","t":2.026,"v":1.1},{"s":"F","t":2.028,"v":0.9},{"s":"F","t":2.0285,"v":1.3},{"s":"F","t":2.029,"v":3.5},{"s":"F","t":2.0295,"v":6.8},{"s":"F","t":2.03,"v":8.8},{"s":"F","t":2.0305,"v":9.5},{"s":"F","t":2.031,"v":9.0},{"s":"F","t":2.032,"v":8.0},{"s":"F","t":2.033,"v":7.0},{"s":"F","t":2.034,"v":6.2},{"s":"F","t":2.035,"v":5.5},{"s":"F","t":2.036,"v":4.9},{"s":"F","t":2.038,"v":3.9},{"s":"F","t":2.04,"v":3.0},{"s":"F","t":2.042,"v":2.2},{"s":"F","t":2.045,"v":1.2},
{"s":"G","t":2.026,"v":0.7},{"s":"G","t":2.028,"v":0.6},{"s":"G","t":2.0285,"v":1.6},{"s":"G","t":2.029,"v":4.8},{"s":"G","t":2.0295,"v":7.6},{"s":"G","t":2.03,"v":8.5},{"s":"G","t":2.031,"v":7.2},{"s":"G","t":2.032,"v":6.0},{"s":"G","t":2.033,"v":5.0},{"s":"G","t":2.034,"v":4.1},{"s":"G","t":2.035,"v":3.4},{"s":"G","t":2.036,"v":2.8},{"s":"G","t":2.038,"v":1.9},{"s":"G","t":2.04,"v":1.3},{"s":"G","t":2.042,"v":0.9},{"s":"G","t":2.045,"v":0.6},
{"s":"H","t":2.026,"v":1.0},{"s":"H","t":2.028,"v":1.2},{"s":"H","t":2.0285,"v":2.2},{"s":"H","t":2.029,"v":6.2},{"s":"H","t":2.0295,"v":10.2},{"s":"H","t":2.03,"v":11.6},{"s":"H","t":2.0303,"v":12.0},{"s":"H","t":2.031,"v":10.8},{"s":"H","t":2.032,"v":9.2},{"s":"H","t":2.033,"v":7.8},{"s":"H","t":2.034,"v":6.6},{"s":"H","t":2.035,"v":5.6},{"s":"H","t":2.036,"v":4.8},{"s":"H","t":2.038,"v":3.5},{"s":"H","t":2.04,"v":2.5},{"s":"H","t":2.042,"v":1.8},{"s":"H","t":2.045,"v":1.1},
{"s":"I","t":2.026,"v":1.2},{"s":"I","t":2.028,"v":1.0},{"s":"I","t":2.0285,"v":1.8},{"s":"I","t":2.029,"v":5.2},{"s":"I","t":2.0295,"v":8.6},{"s":"I","t":2.03,"v":10.0},{"s":"I","t":2.031,"v":9.2},{"s":"I","t":2.032,"v":8.2},{"s":"I","t":2.033,"v":7.3},{"s":"I","t":2.034,"v":6.5},{"s":"I","t":2.035,"v":5.8},{"s":"I","t":2.036,"v":5.2},{"s":"I","t":2.038,"v":4.2},{"s":"I","t":2.04,"v":3.3},{"s":"I","t":2.042,"v":2.5},{"s":"I","t":2.045,"v":1.6},
{"s":"J","t":2.026,"v":0.5},{"s":"J","t":2.028,"v":0.7},{"s":"J","t":2.0285,"v":1.2},{"s":"J","t":2.029,"v":3.2},{"s":"J","t":2.0295,"v":5.6},{"s":"J","t":2.03,"v":6.8},{"s":"J","t":2.0305,"v":7.0},{"s":"J","t":2.031,"v":6.3},{"s":"J","t":2.032,"v":5.1},{"s":"J","t":2.033,"v":4.1},{"s":"J","t":2.034,"v":3.3},{"s":"J","t":2.035,"v":2.6},{"s":"J","t":2.036,"v":2.1},{"s":"J","t":2.038,"v":1.4},{"s":"J","t":2.04,"v":1.0},{"s":"J","t":2.042,"v":0.7},{"s":"J","t":2.045,"v":0.5},
{"s":"K","t":2.026,"v":1.5},{"s":"K","t":2.028,"v":1.3},{"s":"K","t":2.0285,"v":2.6},{"s":"K","t":2.029,"v":7.0},{"s":"K","t":2.0295,"v":10.2},{"s":"K","t":2.03,"v":11.0},{"s":"K","t":2.031,"v":9.6},{"s":"K","t":2.032,"v":8.1},{"s":"K","t":2.033,"v":6.8},{"s":"K","t":2.034,"v":5.8},{"s":"K","t":2.035,"v":4.9},{"s":"K","t":2.036,"v":4.2},{"s":"K","t":2.038,"v":3.1},{"s":"K","t":2.04,"v":2.3},{"s":"K","t":2.042,"v":1.7},{"s":"K","t":2.045,"v":1.2},
{"s":"L","t":2.026,"v":0.9},{"s":"L","t":2.028,"v":1.1},{"s":"L","t":2.0285,"v":2.5},{"s":"L","t":2.029,"v":7.5},{"s":"L","t":2.0295,"v":12.0},{"s":"L","t":2.03,"v":13.6},{"s":"L","t":2.0304,"v":14.0},{"s":"L","t":2.031,"v":12.4},{"s":"L","t":2.032,"v":10.3},{"s":"L","t":2.033,"v":8.6},{"s":"L","t":2.034,"v":7.2},{"s":"L","t":2.035,"v":6.1},{"s":"L","t":2.036,"v":5.2},{"s":"L","t":2.038,"v":3.8},{"s":"L","t":2.04,"v":2.7},{"s":"L","t":2.042,"v":1.9},{"s":"L","t":2.045,"v":1.2}
],
"box":[{"t":2.0624,"t2":2.0913,"v":20.41,"v2":14.81,"bt":2.0631,"bt2":2.0906,"bv":20.22,"bv2":15.31}]
},
"layer":[
{"data":{"name":"w"},
 "mark":{"type":"line","strokeWidth":2.1,"clip":true},
 "encoding":{
  "x":{"field":"t","type":"quantitative","scale":{"domain":[1.98,2.0979],"nice":false,"zero":false},
   "axis":{"title":"Time (ns)","values":[1.98,2,2.02,2.04,2.06,2.08],"format":"~g","labelFont":"Liberation Sans","labelFontSize":21,"labelColor":"#000","labelPadding":10,"tickSize":-5,"tickColor":"#000","tickWidth":1.3,"domainColor":"#000","domainWidth":1.3,"grid":true,"gridColor":"#000","gridDash":[1.5,6.5],"gridWidth":1.3,"gridOpacity":0.75,"titleFont":"Liberation Sans","titleFontSize":20,"titleFontWeight":"normal","titleColor":"#000","titlePadding":12}},
  "y":{"field":"v","type":"quantitative","scale":{"domain":[0,25],"nice":false},
   "axis":{"title":"Pulse Height (mV)","values":[0,5,10,15,20,25],"labelFont":"Liberation Sans","labelFontSize":21,"labelColor":"#000","labelPadding":8,"tickSize":-5,"tickColor":"#000","tickWidth":1.3,"domainColor":"#000","domainWidth":1.3,"grid":true,"gridColor":"#000","gridDash":[1.5,6.5],"gridWidth":1.3,"gridOpacity":0.75,"titleFont":"Liberation Sans","titleFontSize":20,"titleFontWeight":"normal","titleColor":"#000","titlePadding":18}},
  "color":{"field":"s","type":"nominal","legend":null,
   "scale":{"domain":["a","b","c","d","e","f","g","h","i","j","k","l","A","B","C","D","m","n","o","p","q","r","s","t","u","v","w","x","y","z","E","F","G","H","I","J","K","L"],
    "range":["#1a1acc","#128012","#e51414","#14b4bf","#b414b4","#b4b414","#404040","#1c1c96","#128012","#e51414","#14b4bf","#b414b4","#e51414","#1a1acc","#b414b4","#128012","#1a1acc","#128012","#e51414","#14b4bf","#b414b4","#b4b414","#404040","#1a1acc","#128012","#e51414","#14b4bf","#b414b4","#b4b414","#1a1acc","#e51414","#1a1acc","#b414b4","#14b4bf","#e51414","#1a1acc","#128012","#b414b4"]}}}},
{"data":{"values":[{"v":25}]},
 "mark":{"type":"rule","color":"#000","strokeWidth":1.3},
 "encoding":{"y":{"field":"v","type":"quantitative","scale":{"domain":[0,25],"nice":false}}}},
{"data":{"name":"box"},
 "mark":{"type":"rect","fill":"#000","cornerRadius":7},
 "encoding":{"x":{"field":"t","type":"quantitative","scale":{"domain":[1.98,2.0979],"nice":false,"zero":false}},"x2":{"field":"t2"},
  "y":{"field":"v","type":"quantitative","scale":{"domain":[0,25],"nice":false}},"y2":{"field":"v2"}}},
{"data":{"name":"box"},
 "mark":{"type":"rect","cornerRadius":5,"fill":{"gradient":"linear","x1":0,"y1":0,"x2":0,"y2":1,"stops":[{"offset":0,"color":"#6a6ae6"},{"offset":0.1,"color":"#2e2eaa"},{"offset":0.5,"color":"#23238f"},{"offset":0.9,"color":"#1f1f88"},{"offset":1,"color":"#3434b0"}]}},
 "encoding":{"x":{"field":"bt","type":"quantitative","scale":{"domain":[1.98,2.0979],"nice":false,"zero":false}},"x2":{"field":"bt2"},
  "y":{"field":"bv","type":"quantitative","scale":{"domain":[0,25],"nice":false}},"y2":{"field":"bv2"}}},
{"data":{"values":[{"t":2.06597,"v":16.57,"txt":"0.2%"}]},
 "mark":{"type":"text","align":"left","baseline":"alphabetic","fontSize":46,"font":"Liberation Sans","fill":"#fff"},
 "encoding":{"x":{"field":"t","type":"quantitative","scale":{"domain":[1.98,2.0979],"nice":false,"zero":false}},"y":{"field":"v","type":"quantitative","scale":{"domain":[0,25],"nice":false}},"text":{"field":"txt"}}},
{"data":{"values":[{"t":2.06564,"v":13.11,"txt":"SF6"}]},
 "mark":{"type":"text","align":"left","baseline":"alphabetic","fontSize":46,"font":"Liberation Sans","fill":"#000","stroke":"#000","strokeWidth":12,"strokeJoin":"round"},
 "encoding":{"x":{"field":"t","type":"quantitative","scale":{"domain":[1.98,2.0979],"nice":false,"zero":false}},"y":{"field":"v","type":"quantitative","scale":{"domain":[0,25],"nice":false}},"text":{"field":"txt"}}},
{"data":{"values":[{"t":2.06564,"v":13.11,"txt":"SF6"}]},
 "mark":{"type":"text","align":"left","baseline":"alphabetic","fontSize":46,"font":"Liberation Sans","fill":"#fff"},
 "encoding":{"x":{"field":"t","type":"quantitative","scale":{"domain":[1.98,2.0979],"nice":false,"zero":false}},"y":{"field":"v","type":"quantitative","scale":{"domain":[0,25],"nice":false}},"text":{"field":"txt"}}},
{"data":{"values":[{"t":2.09448,"v":-3.68,"txt":"x 10"}]},
 "mark":{"type":"text","align":"left","baseline":"middle","fontSize":18,"font":"Liberation Sans","fill":"#000"},
 "encoding":{"x":{"field":"t","type":"quantitative","scale":{"domain":[1.98,2.0979],"nice":false,"zero":false}},"y":{"field":"v","type":"quantitative","scale":{"domain":[0,25],"nice":false}},"text":{"field":"txt"}}}
]
}
